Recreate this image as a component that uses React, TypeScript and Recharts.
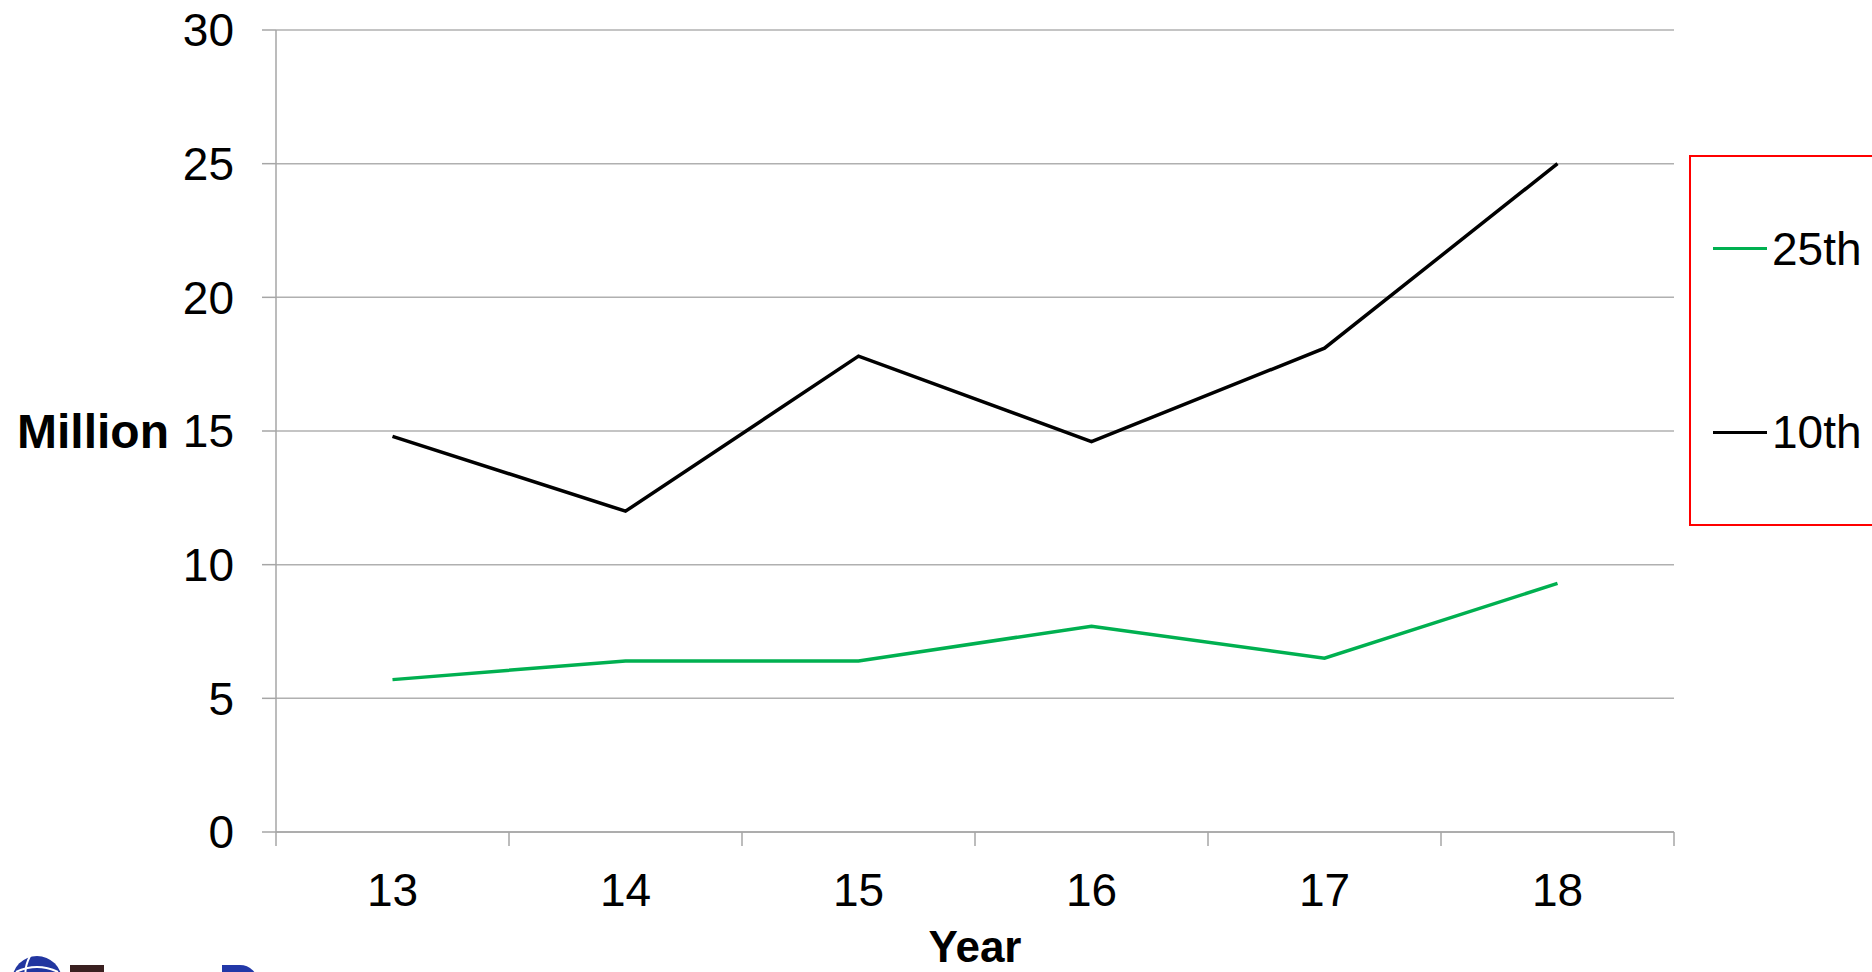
import React from 'react';
import { LineChart, Line, XAxis, YAxis, CartesianGrid, Legend } from 'recharts';

const years = ['13', '14', '15', '16', '17', '18'];
const p25 = [5.7, 6.4, 6.4, 7.7, 6.5, 9.3];
const p10 = [14.8, 12.0, 17.8, 14.6, 18.1, 25.0];
const yTicks = [0, 5, 10, 15, 20, 25, 30];
const legendOrder = ['25th', '10th'];

const data = years.map((year, i) => ({ year, p25: p25[i], p10: p10[i] }));

const AXIS = '#a6a6a6';
const GRID = '#b0b0b0';
const FONT = '"Liberation Sans", Arial, sans-serif';

// x ticks sit on the category boundaries, the labels in the middle
const YearTick = (props: any) => {
  const { x, y, payload, index, visibleTicksCount } = props;
  const half = payload.offset ?? 0;
  const last = index === visibleTicksCount - 1;
  return (
    <g>
      <line x1={x - half} x2={x - half} y1={y} y2={y + 14} stroke={AXIS} strokeWidth={1.5} />
      {last && <line x1={x + half} x2={x + half} y1={y} y2={y + 14} stroke={AXIS} strokeWidth={1.5} />}
      <text x={x} y={y + 41} dy="0.71em" textAnchor="middle" fontSize={46} fill="#000">
        {payload.value}
      </text>
    </g>
  );
};

const renderLegend = (props: any) => {
  const items = [...(props.payload || [])].sort(
    (a: any, b: any) => legendOrder.indexOf(a.value) - legendOrder.indexOf(b.value)
  );
  return (
    <div
      style={{
        boxSizing: 'border-box',
        width: '100%',
        height: '100%',
        border: '2px solid #ff0000',
        display: 'flex',
        flexDirection: 'column',
        justifyContent: 'space-around',
        paddingLeft: 22,
        fontFamily: FONT,
      }}
    >
      {items.map((p: any) => (
        <div key={p.value} style={{ display: 'flex', alignItems: 'center' }}>
          <span style={{ display: 'inline-block', width: 54, height: 3, background: p.color }} />
          <span style={{ marginLeft: 5, fontSize: 46, color: '#000' }}>{p.value}</span>
        </div>
      ))}
    </div>
  );
};

// cropped logo in the bottom left corner
const Logo = () => (
  <svg width={300} height={30} style={{ position: 'absolute', left: 0, top: 942 }}>
    <circle cx={37} cy={39} r={25} fill="#2236a0" />
    <path d="M16 30 Q37 20 58 30" stroke="#fff" strokeWidth={2} fill="none" />
    <path d="M30 14 Q22 30 28 40" stroke="#fff" strokeWidth={2} fill="none" />
    <rect x={70} y={23} width={34} height={7} fill="#3a2020" />
    <path d="M222 23 H240 A18 18 0 0 1 258 41 V48 H222 Z" fill="#2238a8" />
  </svg>
);

export default function App() {
  return (
    <div style={{ position: 'absolute', left: 0, top: 0, width: 1872, height: 972, overflow: 'hidden', background: '#fff' }}>
      <LineChart
        width={1872}
        height={972}
        data={data}
        margin={{ top: 30, right: 198, bottom: 0, left: 0 }}
        style={{ fontFamily: FONT }}
      >
        <CartesianGrid vertical={false} stroke={GRID} strokeWidth={1.5} />
        <XAxis
          dataKey="year"
          scale="band"
          height={140}
          tickLine={false}
          tickSize={0}
          tickMargin={0}
          axisLine={{ stroke: AXIS, strokeWidth: 1.5 }}
          tick={<YearTick />}
          interval={0}
          label={{ value: 'Year', position: 'insideBottom', offset: 10, fontSize: 44, fontWeight: 'bold', fill: '#000' }}
        />
        <YAxis
          domain={[0, 30]}
          ticks={yTicks}
          width={276}
          tickSize={14}
          tickMargin={28}
          tickLine={{ stroke: AXIS, strokeWidth: 1.5 }}
          axisLine={{ stroke: AXIS, strokeWidth: 1.5 }}
          tick={{ fontSize: 46, fill: '#000' }}
          label={{ value: 'Million', position: 'insideLeft', offset: 17, fontSize: 48, fontWeight: 'bold', fill: '#000' }}
        />
        <Legend
          layout="horizontal"
          verticalAlign="middle"
          align="center"
          content={renderLegend}
          wrapperStyle={{ left: 1689, top: 155, width: 260, height: 371 }}
        />
        <Line
          type="linear"
          dataKey="p25"
          name="25th"
          stroke="#00b050"
          strokeWidth={3.5}
          dot={false}
          isAnimationActive={false}
        />
        <Line
          type="linear"
          dataKey="p10"
          name="10th"
          stroke="#000000"
          strokeWidth={3.5}
          dot={false}
          isAnimationActive={false}
        />
      </LineChart>
      <Logo />
    </div>
  );
}
